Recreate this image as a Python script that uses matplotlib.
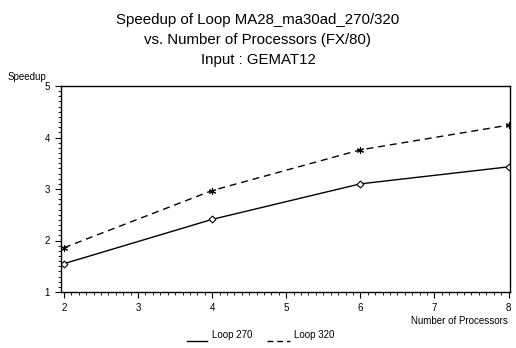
import matplotlib
matplotlib.use("Agg")
import matplotlib.pyplot as plt
from matplotlib.ticker import MultipleLocator
from matplotlib.lines import Line2D

processors = [2, 4, 6, 8]
loop270 = [1.55, 2.41, 3.10, 3.43]
loop320 = [1.86, 2.97, 3.76, 4.24]
series_names = ["Loop 270", "Loop 320"]

plt.rcParams['font.family'] = ['Liberation Sans', 'DejaVu Sans']

fig = plt.figure(figsize=(5.16, 3.48), dpi=100)
ax = fig.add_axes([61/516, 1-292/348, (510-61)/516, (292-86)/348])

ax.plot(processors, loop270, color='black', lw=1.0, ls='-', marker='D', ms=3.5,
        mfc='white', mec='black', mew=0.8)
ax.plot(processors, loop320, color='black', lw=1.0, ls=(0, (5, 3.5)), marker=(6, 2, 0), ms=5,
        mec='black', mew=0.8)

ax.set_xlim(2 - 0.04, 8.02)
ax.set_ylim(1, 5)
ax.xaxis.set_major_locator(MultipleLocator(1))
ax.xaxis.set_minor_locator(MultipleLocator(0.1))
ax.yaxis.set_major_locator(MultipleLocator(1))
ax.yaxis.set_minor_locator(MultipleLocator(0.1))
ax.tick_params(which='major', direction='out', length=4, width=0.8, labelsize=7, pad=4)
ax.tick_params(which='minor', direction='out', length=2, width=0.6)
for s in ax.spines.values():
    s.set_linewidth(1.0)

tfs = 10.8
fig.text(0.5, 1-20/348, "Speedup of Loop MA28_ma30ad_270/320", ha='center', va='center', fontsize=tfs)
fig.text(0.5, 1-40/348, "vs. Number of Processors (FX/80)", ha='center', va='center', fontsize=tfs)
fig.text(0.5, 1-60/348, "Input : GEMAT12", ha='center', va='center', fontsize=tfs)
fig.text(8/516, 1-77/348, "Speedup", ha='left', va='center', fontsize=7)
fig.text(508/516, 1-321/348, "Number of Processors", ha='right', va='center', fontsize=7)

# legend
ly = 1-335/348
lly = 1-341/348
fig.add_artist(Line2D([187/516, 207/516], [lly, lly], color='black', lw=1.0))
fig.text(212/516, ly, series_names[0], ha='left', va='center', fontsize=7)
fig.add_artist(Line2D([267/516, 290/516], [lly, lly], color='black', lw=1.0, ls=(0, (4.2, 2.8))))
fig.text(294/516, ly, series_names[1], ha='left', va='center', fontsize=7)

fig.savefig("out.png", dpi=100)
